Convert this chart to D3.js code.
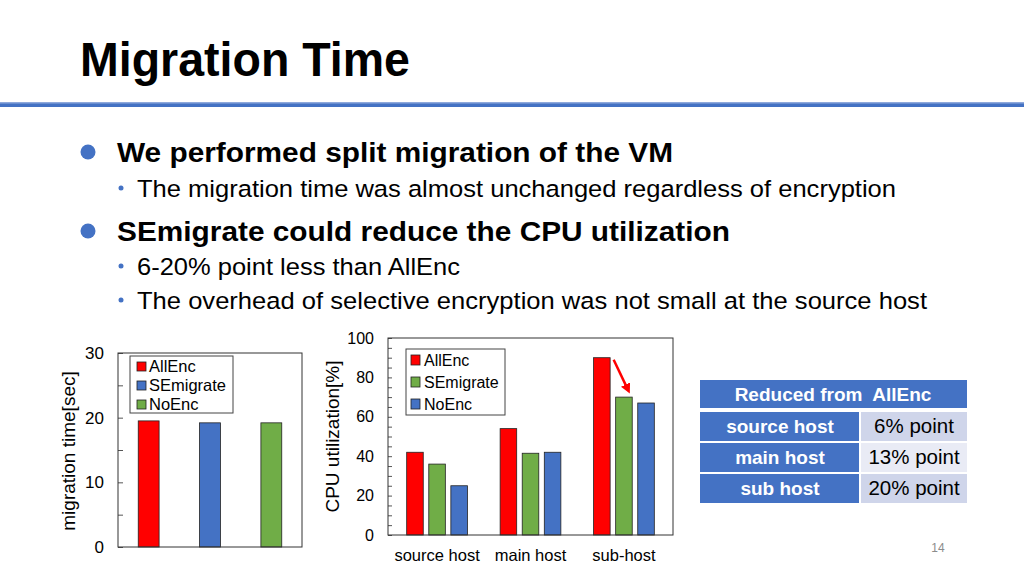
<!DOCTYPE html>
<html>
<head>
<meta charset="utf-8">
<script src="https://cdn.jsdelivr.net/npm/d3@7"></script>
<style>
body{margin:0;background:#fff;}
svg{display:block;font-family:"Liberation Sans",Arial,sans-serif;}
</style>
</head>
<body>
<svg class="slide" width="1024" height="576"></svg>
<script>
// data
const timeSeries = ["AllEnc", "SEmigrate", "NoEnc"];
const timeValues = [19.5, 19.2, 19.2];
const timeTicks = [0, 10, 20, 30];

const hosts = ["source host", "main host", "sub-host"];
const cpuSeries = ["AllEnc", "SEmigrate", "NoEnc"];
const cpuAllEnc = [42, 54, 90];
const cpuSEmigrate = [36, 41.5, 70];
const cpuNoEnc = [25, 42, 67];
const cpuTicks = [0, 20, 40, 60, 80, 100];

const tableHeader = "Reduced from  AllEnc";
const tableHosts = ["source host", "main host", "sub host"];
const tableReduction = ["6% point", "13% point", "20% point"];

const bulletTexts = [
  "We performed split migration of the VM",
  "The migration time was almost unchanged regardless of encryption",
  "SEmigrate could reduce the CPU utilization",
  "6-20% point less than AllEnc",
  "The overhead of selective encryption was not small at the source host"
];
const bulletLevels = [1, 2, 1, 2, 2];

// layout for the bullet lines
const bulletY = [152, 188, 231, 266, 300];
const bulletWidth = [556, 759, 613, 323, 790];

// colors
const RED = "#ff0000", BLUE = "#4472c4", GREEN = "#70ad47";
const timeColor = d3.scaleOrdinal().domain(timeSeries).range([RED, BLUE, GREEN]);
const cpuColor = d3.scaleOrdinal().domain(cpuSeries).range([RED, GREEN, BLUE]);

const svg = d3.select("svg.slide");

// title + rule
svg.append("text").attr("x", 80).attr("y", 76)
  .attr("font-size", 48).attr("font-weight", "bold")
  .attr("textLength", 330).attr("lengthAdjust", "spacingAndGlyphs")
  .text("Migration Time");
svg.append("rect").attr("x", 0).attr("y", 102).attr("width", 1024).attr("height", 5).attr("fill", BLUE);
svg.append("rect").attr("x", 0).attr("y", 102).attr("width", 1024).attr("height", 1.5).attr("fill", "#8fa9dc");

// bullets
bulletTexts.forEach((t, i) => {
  if (bulletLevels[i] === 1) {
    svg.append("circle").attr("cx", 88).attr("cy", bulletY[i]).attr("r", 7.5).attr("fill", BLUE);
    svg.append("text").attr("x", 117).attr("y", bulletY[i] + 10)
      .attr("font-size", 28).attr("font-weight", "bold")
      .attr("textLength", bulletWidth[i]).attr("lengthAdjust", "spacingAndGlyphs").text(t);
  } else {
    svg.append("circle").attr("cx", 121).attr("cy", bulletY[i]).attr("r", 2.5).attr("fill", BLUE);
    svg.append("text").attr("x", 137).attr("y", bulletY[i] + 8.5)
      .attr("font-size", 24.5)
      .attr("textLength", bulletWidth[i]).attr("lengthAdjust", "spacingAndGlyphs").text(t);
  }
});

// ---------- chart 1: migration time
const c1 = {left: 118, right: 302, top: 353, bottom: 547};
const y1 = d3.scaleLinear().domain([0, 30]).range([c1.bottom, c1.top]);
const x1 = d3.scaleBand().domain(timeSeries).range([c1.left, c1.right])
  .paddingInner(0.66).paddingOuter(0.33);

const g1 = svg.append("g");
g1.append("g").attr("transform", `translate(${c1.left},0)`)
  .call(d3.axisLeft(y1).tickValues(d3.range(0, 31, 5)).tickFormat("").tickSizeInner(-5).tickSizeOuter(0))
  .call(g => g.select(".domain").remove())
  .call(g => g.selectAll("line").attr("stroke", "#555"));
g1.append("g").attr("transform", `translate(${c1.left},0)`)
  .call(d3.axisLeft(y1).tickValues(timeTicks).tickSize(0).tickPadding(14))
  .call(g => g.select(".domain").remove())
  .call(g => g.selectAll("text").attr("font-size", 17).attr("font-family", "Liberation Sans, Arial").attr("fill", "#000"));

g1.selectAll("rect.bar").data(timeSeries).join("rect").attr("class", "bar")
  .attr("x", d => x1(d)).attr("width", x1.bandwidth())
  .attr("y", (d, i) => y1(timeValues[i]))
  .attr("height", (d, i) => y1(0) - y1(timeValues[i]))
  .attr("fill", d => timeColor(d)).attr("stroke", "#222").attr("stroke-width", 0.8);

g1.append("rect").attr("x", c1.left).attr("y", c1.top)
  .attr("width", c1.right - c1.left).attr("height", c1.bottom - c1.top)
  .attr("fill", "none").attr("stroke", "#333").attr("stroke-width", 1);

g1.append("text").attr("transform", `translate(75,${(c1.top + c1.bottom) / 2 + 1}) rotate(-90)`)
  .attr("text-anchor", "middle").attr("font-size", 19).text("migration time[sec]");

// legend 1
const l1 = g1.append("g").attr("transform", "translate(130,356)");
l1.append("rect").attr("width", 103).attr("height", 57).attr("fill", "#fff").attr("stroke", "#444");
timeSeries.forEach((s, i) => {
  l1.append("rect").attr("x", 7).attr("y", 6 + i * 19).attr("width", 9).attr("height", 9)
    .attr("fill", timeColor(s)).attr("stroke", "#222").attr("stroke-width", 0.8);
  l1.append("text").attr("x", 19).attr("y", 16 + i * 19).attr("font-size", 16.5).text(s);
});

// ---------- chart 2: CPU utilization
const c2 = {left: 388, right: 673, top: 338, bottom: 535};
const y2 = d3.scaleLinear().domain([0, 100]).range([c2.bottom, c2.top]);
const x2 = d3.scaleBand().domain(hosts).range([c2.left, c2.right])
  .paddingInner(0.35).paddingOuter(0.2);
const x2s = d3.scaleBand().domain(cpuSeries).range([0, x2.bandwidth()]).paddingInner(0.25);
const cpuValues = {AllEnc: cpuAllEnc, SEmigrate: cpuSEmigrate, NoEnc: cpuNoEnc};

const g2 = svg.append("g");
g2.append("g").attr("transform", `translate(${c2.left},0)`)
  .call(d3.axisLeft(y2).tickValues(d3.range(0, 101, 5)).tickFormat("").tickSizeInner(-4).tickSizeOuter(0))
  .call(g => g.select(".domain").remove())
  .call(g => g.selectAll("line").attr("stroke", "#555"));
g2.append("g").attr("transform", `translate(${c2.left},0)`)
  .call(d3.axisLeft(y2).tickValues(cpuTicks).tickSize(0).tickPadding(14))
  .call(g => g.select(".domain").remove())
  .call(g => g.selectAll("text").attr("font-size", 16).attr("font-family", "Liberation Sans, Arial").attr("fill", "#000"));

const groups = g2.selectAll("g.grp").data(hosts).join("g").attr("class", "grp")
  .attr("transform", d => `translate(${x2(d)},0)`);
groups.selectAll("rect").data((h, hi) => cpuSeries.map(s => ({s, v: cpuValues[s][hi]})))
  .join("rect")
  .attr("x", d => x2s(d.s)).attr("width", x2s.bandwidth())
  .attr("y", d => y2(d.v)).attr("height", d => y2(0) - y2(d.v))
  .attr("fill", d => cpuColor(d.s)).attr("stroke", "#222").attr("stroke-width", 0.8);

g2.append("rect").attr("x", c2.left).attr("y", c2.top)
  .attr("width", c2.right - c2.left).attr("height", c2.bottom - c2.top)
  .attr("fill", "none").attr("stroke", "#333").attr("stroke-width", 1);

g2.append("g").attr("transform", `translate(0,${c2.bottom})`)
  .call(d3.axisBottom(x2).tickSize(0).tickPadding(14))
  .call(g => g.select(".domain").remove())
  .call(g => g.selectAll("text").attr("font-size", 16.5).attr("font-family", "Liberation Sans, Arial").attr("fill", "#000"));

g2.append("text").attr("transform", `translate(339,${(c2.top + c2.bottom) / 2}) rotate(-90)`)
  .attr("text-anchor", "middle").attr("font-size", 19).text("CPU utilization[%]");

// legend 2
const l2 = g2.append("g").attr("transform", "translate(406,349)");
l2.append("rect").attr("width", 99).attr("height", 66).attr("fill", "#fff").attr("stroke", "#444");
cpuSeries.forEach((s, i) => {
  l2.append("rect").attr("x", 5).attr("y", 6 + i * 22).attr("width", 9).attr("height", 10)
    .attr("fill", cpuColor(s)).attr("stroke", "#222").attr("stroke-width", 0.8);
  l2.append("text").attr("x", 18).attr("y", 17 + i * 22).attr("font-size", 16).text(s);
});

// arrow on sub-host
const subX = x2("sub-host");
svg.append("defs").append("marker").attr("id", "ah").attr("viewBox", "0 0 10 10")
  .attr("refX", 5).attr("refY", 5).attr("markerWidth", 4).attr("markerHeight", 4)
  .attr("orient", "auto").append("path").attr("d", "M0,0L10,5L0,10z").attr("fill", RED);
svg.append("line")
  .attr("x1", subX + x2s("SEmigrate") - 2).attr("y1", y2(cpuAllEnc[2]) + 2)
  .attr("x2", subX + x2s("SEmigrate") + 12).attr("y2", y2(cpuSEmigrate[2]) - 8)
  .attr("stroke", RED).attr("stroke-width", 2.5).attr("marker-end", "url(#ah)");

// ---------- table
const tb = svg.append("g").attr("transform", "translate(700,380)");
tb.append("rect").attr("width", 267).attr("height", 28).attr("fill", BLUE);
tb.append("text").attr("x", 133).attr("y", 21).attr("text-anchor", "middle")
  .attr("font-size", 19).attr("font-weight", "bold").attr("fill", "#fff")
  .attr("xml:space", "preserve").text(tableHeader);
const rightFill = ["#cfd5ea", "#e9ebf5", "#cfd5ea"];
tableHosts.forEach((h, i) => {
  const yy = 32 + i * 31;
  tb.append("rect").attr("x", 0).attr("y", yy).attr("width", 159).attr("height", 29).attr("fill", BLUE);
  tb.append("rect").attr("x", 161).attr("y", yy).attr("width", 106).attr("height", 29).attr("fill", rightFill[i]);
  tb.append("text").attr("x", 80).attr("y", yy + 21).attr("text-anchor", "middle")
    .attr("font-size", 19).attr("font-weight", "bold").attr("fill", "#fff").text(h);
  tb.append("text").attr("x", 214).attr("y", yy + 21).attr("text-anchor", "middle")
    .attr("font-size", 20.5).attr("fill", "#000").text(tableReduction[i]);
});

// page number
svg.append("text").attr("x", 938).attr("y", 552).attr("text-anchor", "middle")
  .attr("font-size", 12).attr("fill", "#8c8c8c").text("14");
</script>
</body>
</html>
